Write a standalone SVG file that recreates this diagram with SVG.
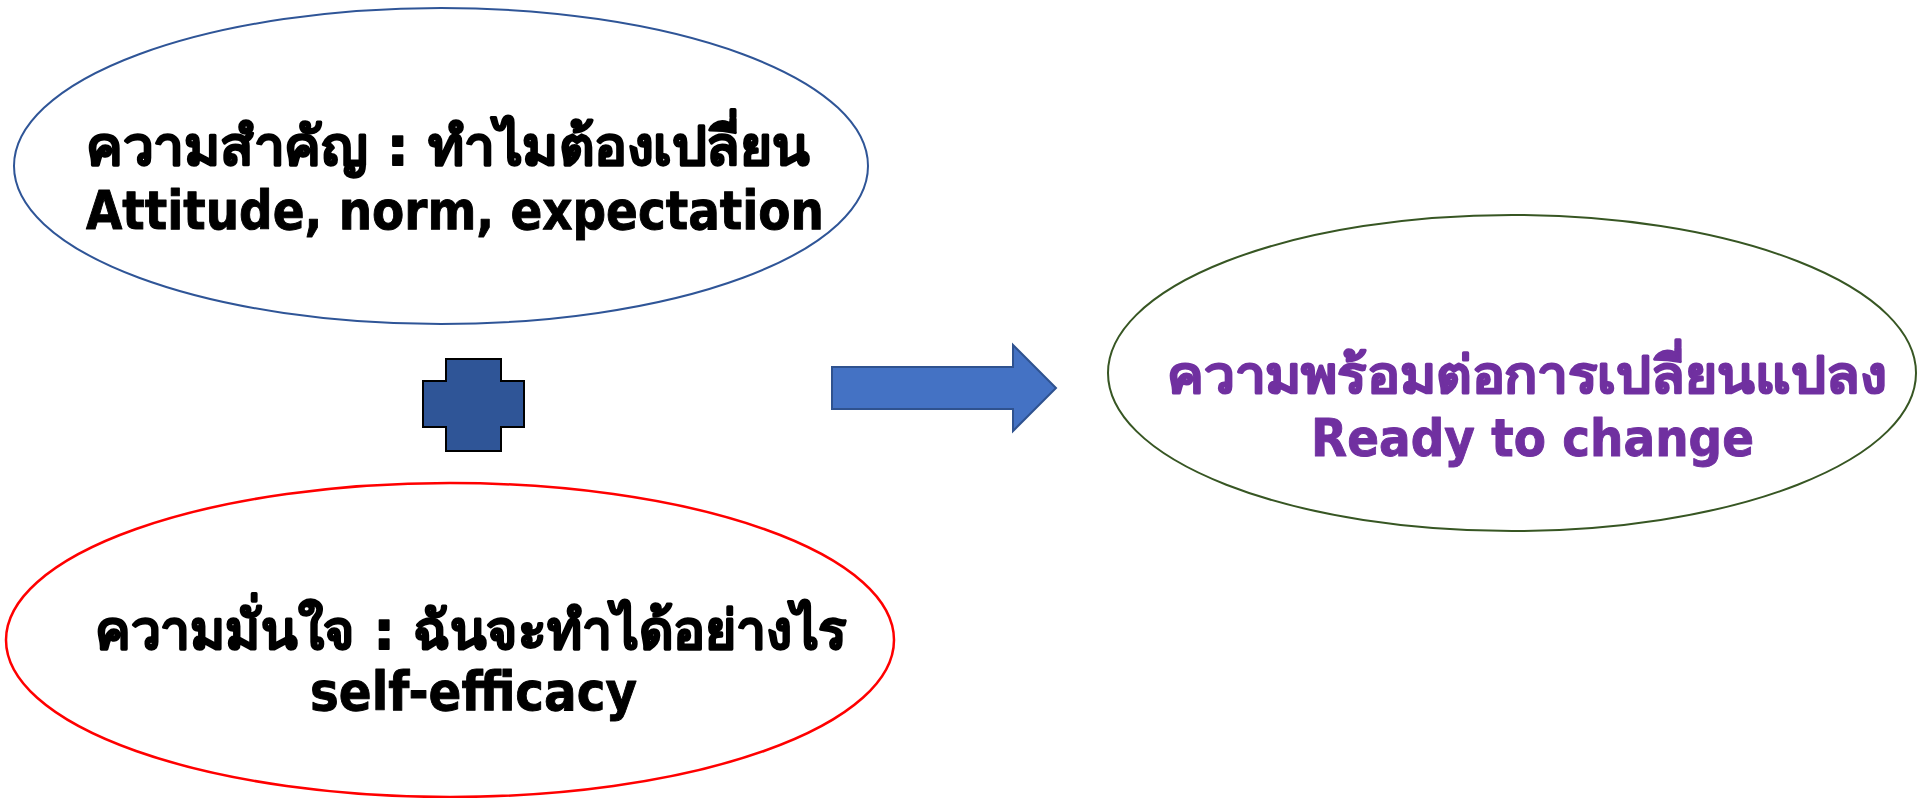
<svg xmlns="http://www.w3.org/2000/svg" width="1919" height="798" viewBox="0 0 1919 798">
<style>
.t{font-family:"DejaVu Sans","Noto Sans",sans-serif;font-weight:bold;stroke-width:1;stroke-linejoin:round;}
.th{font-family:"DejaVu Sans","Noto Sans",sans-serif;font-weight:bold;stroke-width:1.6;stroke-linejoin:round;}
.blk{fill:#000000;stroke:#000000;}
.pur{fill:#7030A0;stroke:#7030A0;}
</style>
<rect x="0" y="0" width="1919" height="798" fill="#ffffff"/>
<g id="node-importance">
<ellipse cx="441" cy="166" rx="427" ry="158" fill="#ffffff" stroke="#2F5597" stroke-width="2"/>
<text class="th blk" x="86" y="165" font-size="54" textLength="724" lengthAdjust="spacingAndGlyphs">ความสำคัญ : ทำไมต้องเปลี่ยน</text>
<text class="t blk" x="86" y="229" font-size="54" textLength="738" lengthAdjust="spacingAndGlyphs">Attitude, norm, expectation</text>
</g>
<g id="node-confidence">
<ellipse cx="450" cy="640" rx="444" ry="157" fill="#ffffff" stroke="#FF0000" stroke-width="2.5"/>
<text class="th blk" x="95" y="649" font-size="54" textLength="752" lengthAdjust="spacingAndGlyphs">ความมั่นใจ : ฉันจะทำได้อย่างไร</text>
<text class="t blk" x="310" y="710" font-size="54" textLength="327" lengthAdjust="spacingAndGlyphs">self-efficacy</text>
</g>
<g id="node-plus">
<path d="M446,359 H501 V381 H524 V427 H501 V451 H446 V427 H423 V381 H446 Z" fill="#2F5597" stroke="#000000" stroke-width="2"/>
</g>
<g id="node-ready">
<ellipse cx="1512" cy="373" rx="404" ry="158" fill="#ffffff" stroke="#375623" stroke-width="2"/>
<text class="th pur" x="1167" y="393" font-size="52" textLength="719" lengthAdjust="spacingAndGlyphs">ความพร้อมต่อการเปลี่ยนแปลง</text>
<text class="t pur" x="1311" y="456" font-size="52" textLength="443" lengthAdjust="spacingAndGlyphs">Ready to change</text>
</g>
<g id="connectors">
<path d="M832,367 H1013 V345 L1056,388 L1013,431 V409 H832 Z" fill="#4472C4" stroke="#2F528F" stroke-width="2"/>
</g>
</svg>
